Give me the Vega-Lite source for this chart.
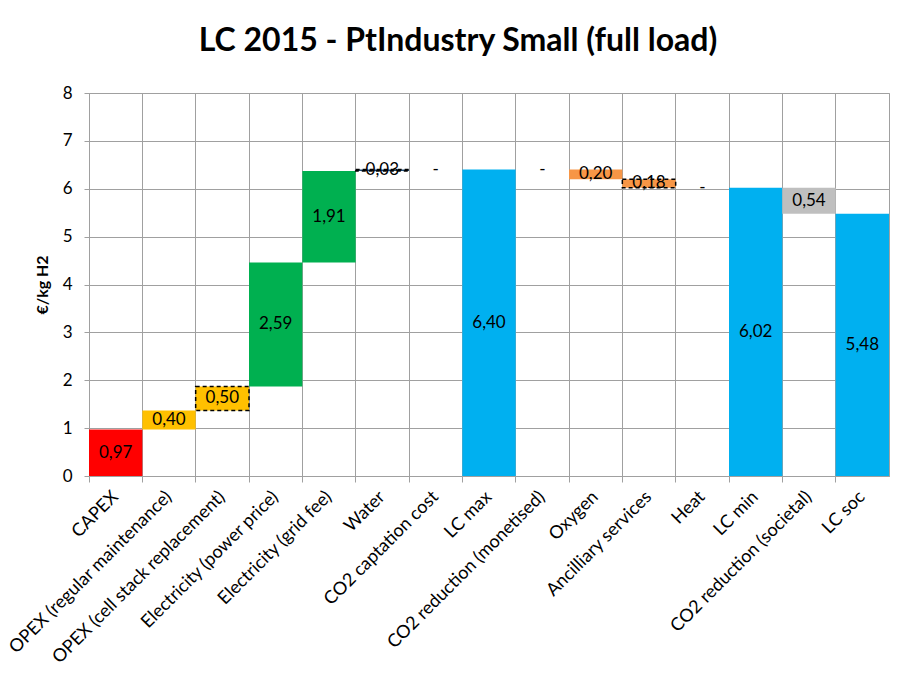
{
  "$schema": "https://vega.github.io/schema/vega-lite/v6.json",
  "width": 800,
  "height": 383,
  "autosize": "none",
  "padding": {"left": 89, "top": 93, "right": 9, "bottom": 203},
  "background": "white",
  "config": {
    "font": "Lato",
    "view": {"stroke": "#a0a0a0", "strokeWidth": 1},
    "axis": {"gridColor": "#a0a0a0", "gridWidth": 1, "gridOpacity": 1, "domainColor": "#a0a0a0", "tickColor": "#a0a0a0", "labelColor": "black", "titleColor": "black", "labelFont": "Lato"}
  },
  "title": {
    "text": "LC 2015 - PtIndustry Small (full load)",
    "font": "Lato",
    "fontSize": 32,
    "fontWeight": "bold",
    "color": "black",
    "anchor": "middle",
    "frame": "group",
    "dx": -31,
    "offset": 26
  },
  "data": {
    "values": [
      {"cat": "CAPEX", "start": 0, "end": 0.97, "label": "0,97", "type": "CAPEX"},
      {"cat": "OPEX (regular maintenance)", "start": 0.97, "end": 1.37, "label": "0,40", "type": "OPEX"},
      {"cat": "OPEX (cell stack replacement)", "start": 1.37, "end": 1.87, "label": "0,50", "type": "OPEX"},
      {"cat": "Electricity (power price)", "start": 1.87, "end": 4.46, "label": "2,59", "type": "Electricity"},
      {"cat": "Electricity (grid fee)", "start": 4.46, "end": 6.37, "label": "1,91", "type": "Electricity"},
      {"cat": "Water", "start": 6.37, "end": 6.4, "label": "0,03", "type": "Water"},
      {"cat": "CO2 captation cost", "start": 6.4, "end": 6.4, "label": "-", "type": "CO2"},
      {"cat": "LC max", "start": 0, "end": 6.4, "label": "6,40", "type": "Total"},
      {"cat": "CO2 reduction (monetised)", "start": 6.4, "end": 6.4, "label": "-", "type": "CO2"},
      {"cat": "Oxygen", "start": 6.4, "end": 6.2, "label": "0,20", "type": "Revenue"},
      {"cat": "Ancilliary services", "start": 6.2, "end": 6.02, "label": "0,18", "type": "Revenue"},
      {"cat": "Heat", "start": 6.02, "end": 6.02, "label": "-", "type": "Revenue"},
      {"cat": "LC min", "start": 0, "end": 6.02, "label": "6,02", "type": "Total"},
      {"cat": "CO2 reduction (societal)", "start": 6.02, "end": 5.48, "label": "0,54", "type": "Societal"},
      {"cat": "LC soc", "start": 0, "end": 5.48, "label": "5,48", "type": "Total"}
    ]
  },
  "layer": [
    {
      "mark": {"type": "bar"},
      "encoding": {
        "x": {
          "field": "cat", "type": "nominal", "sort": null,
          "scale": {"paddingInner": 0, "paddingOuter": 0},
          "axis": {"orient": "bottom", "title": null, "labels": false, "grid": true, "bandPosition": 0, "ticks": true, "tickSize": 6, "domain": true}
        },
        "y": {
          "field": "start", "type": "quantitative",
          "scale": {"domain": [0, 8], "nice": false, "zero": true},
          "axis": {"title": "€/kg H2", "titleFontSize": 16, "titleFontWeight": "bold", "titlePadding": 12, "values": [0,1,2,3,4,5,6,7,8], "labelFontSize": 17, "labelPadding": 12, "tickSize": 5, "grid": true}
        },
        "y2": {"field": "end"},
        "color": {
          "field": "type", "type": "nominal",
          "scale": {"domain": ["CAPEX", "OPEX", "Electricity", "Water", "CO2", "Total", "Revenue", "Societal"],
                    "range": ["#ff0000", "#ffc000", "#00b050", "#1f4e79", "#ffffff", "#00b0f0", "#f79646", "#bfbfbf"]},
          "legend": null
        }
      }
    },
    {
      "transform": [{"filter": {"field": "cat", "oneOf": ["OPEX (cell stack replacement)", "Water", "Ancilliary services"]}}],
      "mark": {"type": "bar", "fillOpacity": 0, "stroke": "black", "strokeWidth": 1.5, "strokeDash": [4, 3]},
      "encoding": {
        "x": {"field": "cat", "type": "nominal", "sort": null, "axis": null},
        "y": {"field": "start", "type": "quantitative", "title": "€/kg H2"},
        "y2": {"field": "end"}
      }
    },
    {
      "transform": [{"calculate": "(datum.start + datum.end) / 2", "as": "mid"}],
      "mark": {"type": "text", "fontSize": 17, "color": "black", "font": "Lato"},
      "encoding": {
        "x": {
          "field": "cat", "type": "nominal", "sort": null,
          "axis": {"orient": "bottom", "title": null, "labelAngle": -45, "labelAlign": "right", "labelBaseline": "middle", "labelFontSize": 18, "labelPadding": 18, "ticks": false, "domain": false, "grid": false, "labelLimit": 400}
        },
        "y": {"field": "mid", "type": "quantitative", "title": "€/kg H2"},
        "text": {"field": "label"}
      }
    }
  ],
  "resolve": {"axis": {"x": "independent"}}
}
